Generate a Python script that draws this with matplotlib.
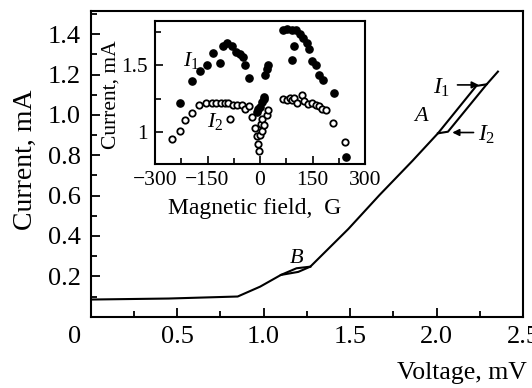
import numpy as np
import matplotlib.pyplot as plt
from matplotlib.ticker import MultipleLocator

plt.rcParams['font.family'] = ['Liberation Serif', 'DejaVu Serif']
plt.rcParams['mathtext.fontset'] = 'custom'
plt.rcParams['mathtext.rm'] = 'Liberation Serif'
plt.rcParams['mathtext.it'] = 'Liberation Serif:italic'
plt.rcParams['axes.unicode_minus'] = True

# main I-V curve (branch I1 through loop A), mV / mA
volt_main = [0.0, 0.45, 0.85, 0.98, 1.10, 1.19, 1.27, 1.49, 1.67, 1.86, 2.008, 2.23, 2.29, 2.355]
curr_main = [0.085, 0.09, 0.100, 0.149, 0.207, 0.240, 0.248, 0.435, 0.603, 0.772, 0.909, 1.144, 1.152, 1.215]
# lower branch of loop B and branch I2 of loop A
volt_loopB = [1.10, 1.20, 1.27]
curr_loopB = [0.207, 0.222, 0.248]
volt_loopA2 = [2.008, 2.066, 2.29]
curr_loopA2 = [0.909, 0.917, 1.152]

# inset: current vs magnetic field
field_I1 = [-230, -193, -171, -152, -135, -114, -105, -93, -81, -69, -57, -49, -43, -32,
            -10, -5, 0, 5, 10, 12, 14, 19, 22,
            67, 78, 90, 102, 114, 124, 133, 140, 98, 90, 149, 159, 169, 181, 211, 245]
curr_I1 = [1.218, 1.382, 1.455, 1.505, 1.592, 1.517, 1.645, 1.663, 1.643, 1.60, 1.58, 1.56, 1.505, 1.405,
           1.15, 1.17, 1.188, 1.225, 1.262, 1.25, 1.425, 1.475, 1.5,
           1.763, 1.77, 1.763, 1.763, 1.73, 1.70, 1.663, 1.62, 1.645, 1.537, 1.53, 1.505, 1.425, 1.388, 1.295, 0.812]
field_I2 = [-252, -230, -214, -193, -173, -154, -138, -126, -112, -100, -91, -86, -76, -65, -52, -43, -32,
            -22, -13, -8, -5, -3, 0, 2, 5, 7, 12, 19, 22,
            67, 76, 86, 92, 98, 107, 119, 127, 136, 148, 159, 169, 176, 188, 209, 243]
curr_I2 = [0.95, 1.005, 1.093, 1.145, 1.2, 1.218, 1.218, 1.218, 1.218, 1.218, 1.218, 1.095, 1.205, 1.2, 1.2, 1.175, 1.195,
           1.112, 1.03, 0.97, 0.91, 0.86, 0.975, 1.06, 1.10, 1.012, 1.05, 1.125, 1.162,
           1.25, 1.237, 1.255, 1.237, 1.255, 1.22, 1.275, 1.23, 1.213, 1.22, 1.205, 1.195, 1.175, 1.163, 1.07, 0.93]

fig = plt.figure(figsize=(5.32, 3.88), dpi=100)
ax = fig.add_axes([0.1705, 0.1838, 0.8126, 0.7866])

ax.plot(volt_main, curr_main, color='black', lw=1.5)
ax.plot(volt_loopB, curr_loopB, color='black', lw=1.5)
ax.plot(volt_loopA2, curr_loopA2, color='black', lw=1.5)

ax.set_xlim(0, 2.5)
ax.set_ylim(0, 1.513)
ax.set_xticks([0, 0.5, 1.0, 1.5, 2.0, 2.5])
ax.set_xticklabels(['', '0.5', '1.0', '1.5', '2.0', '2.5'])
ax.set_yticks([0.2, 0.4, 0.6, 0.8, 1.0, 1.2, 1.4])
ax.set_yticklabels(['0.2', '0.4', '0.6', '0.8', '1.0', '1.2', '1.4'])
ax.xaxis.set_minor_locator(MultipleLocator(0.25))
ax.yaxis.set_minor_locator(MultipleLocator(0.1))
ax.tick_params(which='both', direction='in', labelsize=19, width=1.3, top=False, right=False)
ax.tick_params(which='major', length=6.5, pad=7)
ax.tick_params(which='minor', length=4.5)
for s in ax.spines.values():
    s.set_linewidth(1.5)

ax.set_xlabel('Voltage, mV', fontsize=18.5, ha='right', va='center')
ax.xaxis.set_label_coords(1.009, -0.184)
ax.set_ylabel('Current, mA', fontsize=20, va='center')
ax.yaxis.set_label_coords(-0.152, 0.513)
fig.text(75 / 532, 1 - 337 / 388, '0', fontsize=19, ha='center', va='center')

ax.text(1.19, 0.29, 'B', fontsize=16, style='italic', ha='center', va='center')
ax.text(1.912, 0.99, 'A', fontsize=16, style='italic', ha='center', va='center')
ax.annotate('', xy=(2.26, 1.149), xytext=(2.105, 1.149),
            arrowprops=dict(arrowstyle='-|>', color='black', lw=1.2, mutation_scale=10))
ax.text(2.03, 1.132, '$I_1$', fontsize=17, ha='center', va='center')
ax.annotate('', xy=(2.075, 0.913), xytext=(2.23, 0.913),
            arrowprops=dict(arrowstyle='-|>', color='black', lw=1.2, mutation_scale=10))
ax.text(2.29, 0.90, '$I_2$', fontsize=17, ha='center', va='center')

# inset
ins = fig.add_axes([0.2914, 0.5773, 0.3947, 0.3686])
ins.plot(field_I1, curr_I1, 'o', color='black', ms=5.2, mec='black')
ins.plot(field_I2, curr_I2, 'o', mfc='white', mec='black', ms=4.6, mew=1.3)
ins.set_xlim(-300, 300)
ins.set_ylim(0.762, 1.83)
ins.set_xticks([-300, -150, 0, 150, 300])
ins.set_yticks([1.0, 1.5])
ins.set_yticklabels(['1', '1.5'])
ins.xaxis.set_minor_locator(MultipleLocator(75))
ins.yaxis.set_minor_locator(MultipleLocator(0.25))
ins.tick_params(which='both', direction='in', labelsize=15.5, width=1.2, top=False, right=False)
ins.tick_params(which='major', length=5.5, pad=5)
ins.tick_params(which='minor', length=4)
for s in ins.spines.values():
    s.set_linewidth(1.5)
ins.set_xlabel('Magnetic field,  G', fontsize=17, va='center')
ins.xaxis.set_label_coords(0.476, -0.308)
ins.set_ylabel('Current, mA', fontsize=15.5, va='center')
ins.yaxis.set_label_coords(-0.21, 0.483)
ins.text(-196, 1.535, '$I_1$', fontsize=16, ha='center', va='center')
ins.text(-129, 1.077, '$I_2$', fontsize=16, ha='center', va='center')

fig.savefig('out.png', dpi=100)
